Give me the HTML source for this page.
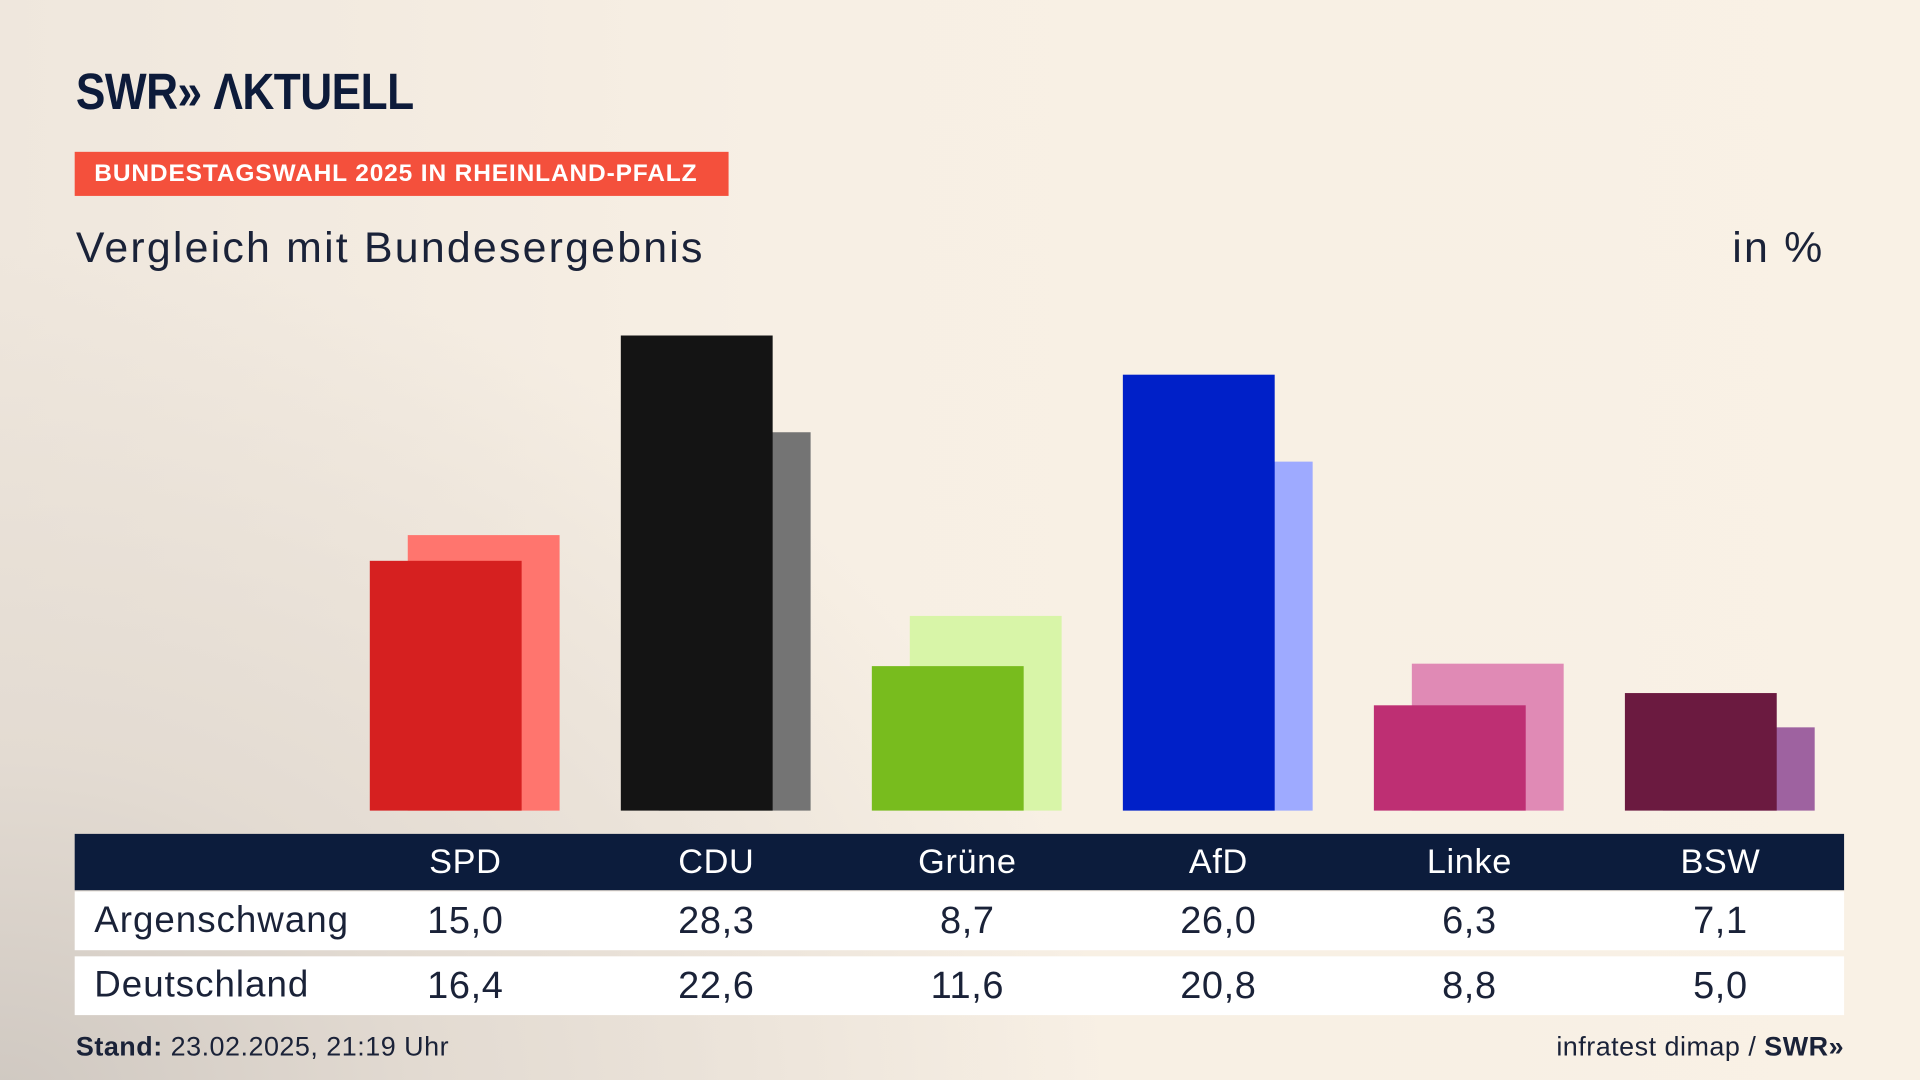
<!DOCTYPE html>
<html><head><meta charset="utf-8"><style>
html,body{margin:0;padding:0;width:1920px;height:1080px;overflow:hidden}
#w{position:absolute;left:0;top:0;width:1568px;height:882px;transform:scale(1.2244898);transform-origin:0 0;
background:radial-gradient(ellipse 900px 700px at 0px 900px,#cfc8c1 0%,#e3dbd2 40%,rgba(248,240,228,0) 100%),linear-gradient(90deg,#efe7dd 0%,#f7efe4 40%,#f9f1e5 100%);
font-family:"Liberation Sans",sans-serif;color:#15203a}
.a{position:absolute}
.logo{left:62px;top:52px;font-weight:bold;font-size:42px;color:#0d1b3a;letter-spacing:-0.5px;line-height:46px;transform:scaleX(0.86);transform-origin:0 0}
.tag{left:61px;top:124px;width:534px;height:36px;background:#f4503c;color:#fff;font-weight:bold;font-size:20px;line-height:37px;text-indent:16px;letter-spacing:0.7px;white-space:nowrap}
.t{top:182px;font-size:35px;line-height:42px;color:#1a2238;letter-spacing:1.8px}
.b{position:absolute;width:124px}
.hd{left:61px;top:681px;width:1445px;height:46px;background:#0c1c3c}
.row{left:61px;width:1445px;height:48px;background:#fff}
.c{position:absolute;width:160px;margin-left:-80px;text-align:center}
.hd .c{color:#fff;font-size:28px;line-height:46px;letter-spacing:0.5px}
.row .c{font-size:31px;line-height:48px;color:#1a2238;letter-spacing:0.5px}
.row .l{position:absolute;left:16px;font-size:30px;line-height:48px;color:#1a2238;letter-spacing:0.8px}
</style></head><body><div id="w">
<div class="a logo">SWR» ΛKTUELL</div>
<div class="a tag">BUNDESTAGSWAHL 2025 IN RHEINLAND-PFALZ</div>
<div class="a t" style="left:62px">Vergleich mit Bundesergebnis</div>
<div class="a t" style="right:78px">in %</div>

<div class="b" style="left:333px;top:437px;height:225px;background:#ff756e"></div>
<div class="b" style="left:302px;top:458px;height:204px;background:#d62020"></div>
<div class="b" style="left:538px;top:353px;height:309px;background:#747474"></div>
<div class="b" style="left:507px;top:274px;height:388px;background:#141414"></div>
<div class="b" style="left:743px;top:503px;height:159px;background:#d8f5a8"></div>
<div class="b" style="left:712px;top:544px;height:118px;background:#78bc1e"></div>
<div class="b" style="left:948px;top:377px;height:285px;background:#9eaaff"></div>
<div class="b" style="left:917px;top:306px;height:356px;background:#0020c8"></div>
<div class="b" style="left:1153px;top:542px;height:120px;background:#e08ab5"></div>
<div class="b" style="left:1122px;top:576px;height:86px;background:#be2f73"></div>
<div class="b" style="left:1358px;top:594px;height:68px;background:#9e62a0"></div>
<div class="b" style="left:1327px;top:566px;height:96px;background:#6b1a40"></div>

<div class="a hd">
<div class="c" style="left:319px">SPD</div><div class="c" style="left:524px">CDU</div><div class="c" style="left:729px">Grüne</div><div class="c" style="left:934px">AfD</div><div class="c" style="left:1139px">Linke</div><div class="c" style="left:1344px">BSW</div>
</div>
<div class="a row" style="top:728px"><div class="l">Argenschwang</div>
<div class="c" style="left:319px">15,0</div><div class="c" style="left:524px">28,3</div><div class="c" style="left:729px">8,7</div><div class="c" style="left:934px">26,0</div><div class="c" style="left:1139px">6,3</div><div class="c" style="left:1344px">7,1</div>
</div>
<div class="a row" style="top:781px"><div class="l">Deutschland</div>
<div class="c" style="left:319px">16,4</div><div class="c" style="left:524px">22,6</div><div class="c" style="left:729px">11,6</div><div class="c" style="left:934px">20,8</div><div class="c" style="left:1139px">8,8</div><div class="c" style="left:1344px">5,0</div>
</div>
<div class="a" style="left:62px;top:841px;font-size:22px;line-height:28px;color:#1a2238;letter-spacing:0.4px"><b>Stand:</b> 23.02.2025, 21:19 Uhr</div>
<div class="a" style="right:62px;top:841px;font-size:22px;line-height:28px;color:#1a2238;letter-spacing:0.4px">infratest dimap / <b>SWR»</b></div>
</div></body></html>
